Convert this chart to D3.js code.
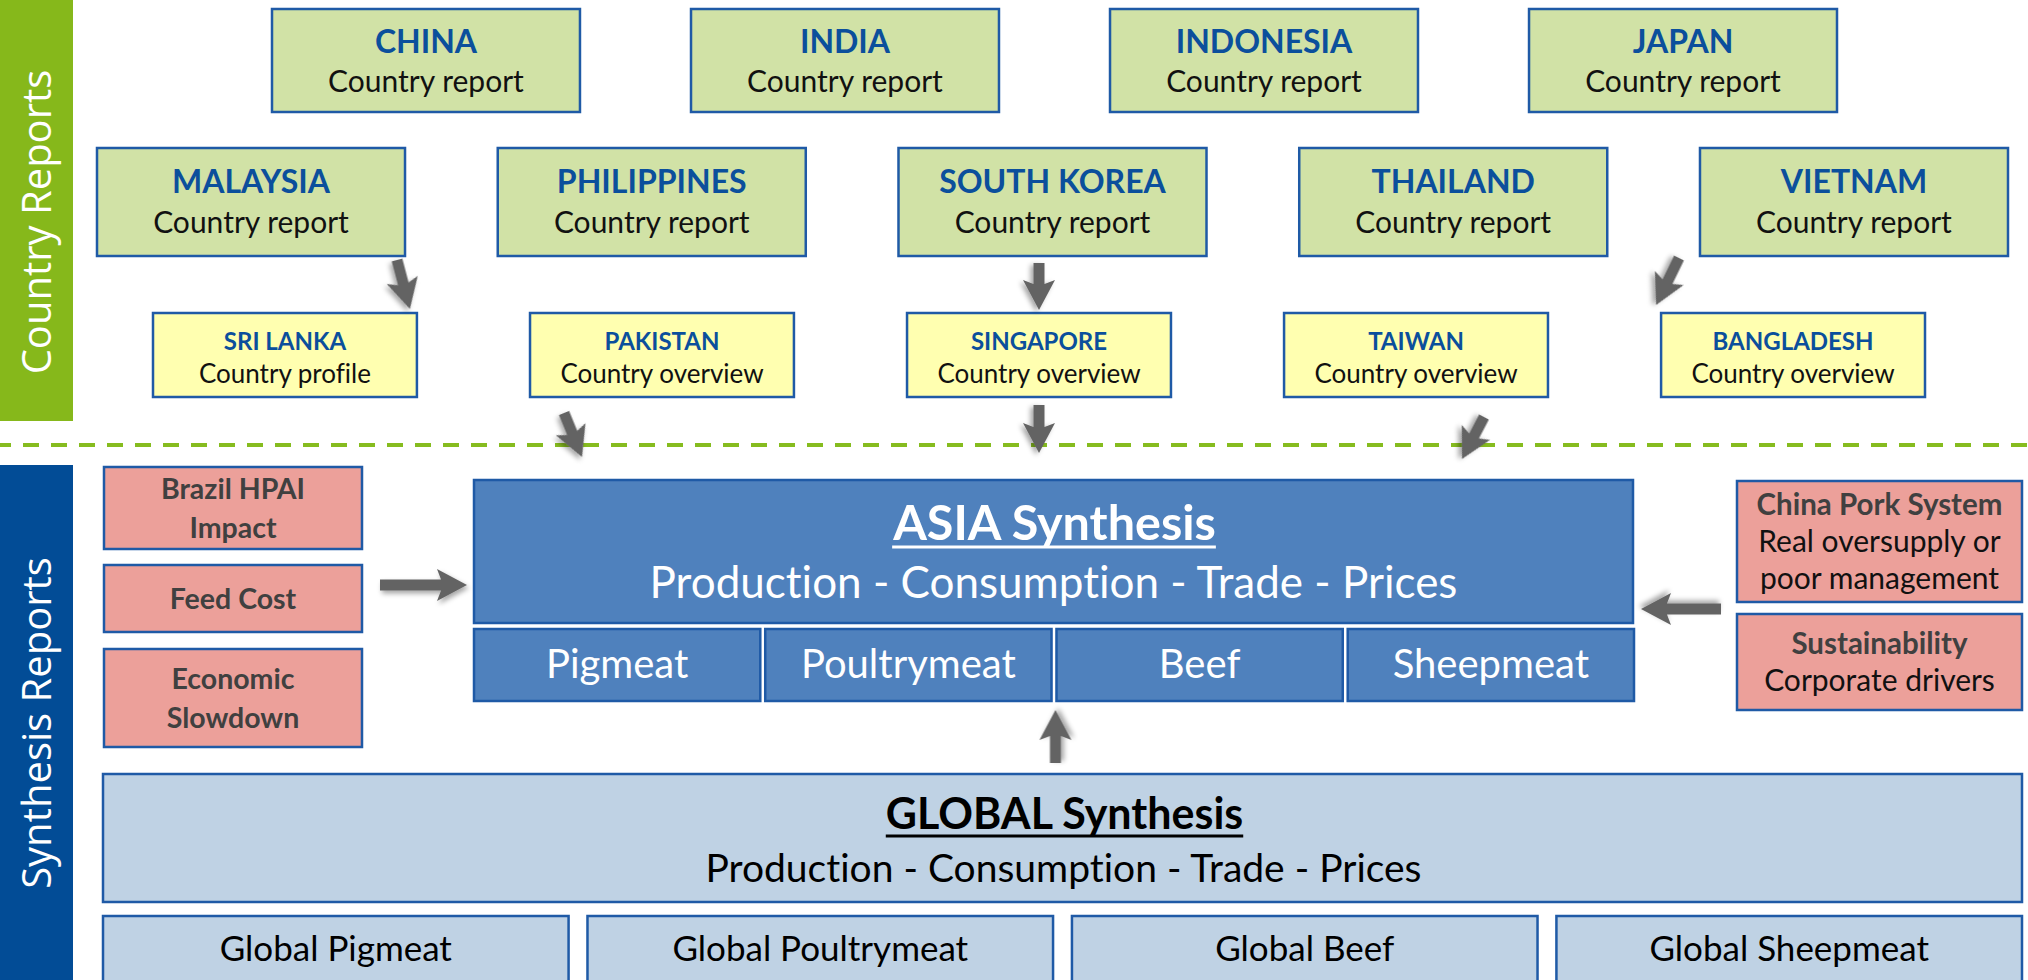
<!DOCTYPE html>
<html>
<head>
<meta charset="utf-8">
<script src="https://cdn.jsdelivr.net/npm/d3@7"></script>
<style>
  body { margin: 0; background: #fff; }
  text { font-family: Lato, 'Open Sans', sans-serif; }
</style>
</head>
<body>
<script>
/* global d3 */

// report names and labels
const topCountries = ['CHINA', 'INDIA', 'INDONESIA', 'JAPAN'];
const midCountries = ['MALAYSIA', 'PHILIPPINES', 'SOUTH KOREA', 'THAILAND', 'VIETNAM'];
const reportLabel = 'Country report';
const overviewCountries = ['SRI LANKA', 'PAKISTAN', 'SINGAPORE', 'TAIWAN', 'BANGLADESH'];
const overviewLabels = ['Country profile', 'Country overview', 'Country overview', 'Country overview', 'Country overview'];
const leftDrivers = [['Brazil HPAI', 'Impact'], ['Feed Cost'], ['Economic', 'Slowdown']];
const rightTitles = ['China Pork System', 'Sustainability'];
const rightNotes = [['Real oversupply or', 'poor management'], ['Corporate drivers']];
const asiaTitle = 'ASIA Synthesis';
const globalTitle = 'GLOBAL Synthesis';
const chainLabel = 'Production - Consumption - Trade - Prices';
const meats = ['Pigmeat', 'Poultrymeat', 'Beef', 'Sheepmeat'];
const globalMeats = ['Global Pigmeat', 'Global Poultrymeat', 'Global Beef', 'Global Sheepmeat'];
const sideLabels = ['Country Reports', 'Synthesis Reports'];

const W = 2028;
const H = 980;

const green = '#d1e2a6';
const yellow = '#ffffb0';
const salmon = '#eca09a';
const asiaBlue = '#4f81bd';
const paleBlue = '#bfd2e4';
const edge = '#1f5aa6';
const titleBlue = '#0b4f9c';

const svg = d3.select('body')
  .append('svg')
  .attr('width', W)
  .attr('height', H);

const defs = svg.append('defs');
defs.append('filter')
  .attr('id', 'shadow')
  .attr('x', '-30%').attr('y', '-30%')
  .attr('width', '160%').attr('height', '160%')
  .append('feDropShadow')
  .attr('dx', 2).attr('dy', 3)
  .attr('stdDeviation', 2.5)
  .attr('flood-color', '#000')
  .attr('flood-opacity', 0.35);

// horizontal scales for each row of boxes
const xTop = d3.scaleBand().domain(topCountries).range([272, 1837]).paddingInner(0.265);
const xMid = d3.scaleBand().domain(midCountries).range([97, 2008]).paddingInner(0.2314);
const xOver = d3.scaleBand().domain(overviewCountries).range([153, 1925]).paddingInner(0.3);
const xMeat = d3.scaleBand().domain(meats).range([474, 1634]).paddingInner(0.017);
const xGlobal = d3.scaleBand().domain(globalMeats).range([103, 2022]).paddingInner(0.039);

// vertical bands
const rowTop = [9, 112];
const rowMid = [148, 256];
const rowOver = [313, 397];
const asiaBox = { x0: 474, x1: 1633, y0: 480, y1: 623 };
const meatRow = [629, 701];
const globalBox = { x0: 103, x1: 2022, y0: 774, y1: 902 };
const globalRow = [916, 990];
const leftX = [104, 362];
const leftRows = [[467, 549], [565, 632], [649, 747]];
const rightX = [1737, 2022];
const rightRows = [[481, 602], [614, 710]];

function box(g, x0, y0, x1, y1, fill) {
  g.append('rect')
    .attr('x', x0)
    .attr('y', y0)
    .attr('width', x1 - x0)
    .attr('height', y1 - y0)
    .attr('fill', fill)
    .attr('stroke', edge)
    .attr('stroke-width', 2.5);
}

function label(g, x, y, txt, size, weight, color) {
  return g.append('text')
    .attr('x', x)
    .attr('y', y)
    .attr('text-anchor', 'middle')
    .style('font-size', `${size}px`)
    .style('font-weight', weight)
    .style('font-variant-ligatures', 'none')
    .attr('fill', color)
    .text(txt);
}

function underline(g, t, color, dy) {
  const b = t.node().getBBox();
  const y = +t.attr('y') + dy;
  g.append('line')
    .attr('x1', b.x)
    .attr('x2', b.x + b.width)
    .attr('y1', y)
    .attr('y2', y)
    .attr('stroke', color)
    .attr('stroke-width', 3);
}

// side bands
svg.append('rect').attr('x', 0).attr('y', 0).attr('width', 73).attr('height', 421).attr('fill', '#86b81b');
svg.append('rect').attr('x', 0).attr('y', 465).attr('width', 73).attr('height', H - 465).attr('fill', '#024c96');
[[sideLabels[0], 222], [sideLabels[1], 723]].forEach(([txt, cy]) => {
  svg.append('text')
    .attr('transform', `translate(51, ${cy}) rotate(-90)`)
    .attr('text-anchor', 'middle')
    .style('font-family', "'Open Sans', sans-serif")
    .style('font-size', '40px')
    .style('font-weight', 400)
    .attr('fill', '#fff')
    .text(txt);
});

// dashed divider
svg.append('line')
  .attr('x1', 0).attr('x2', W)
  .attr('y1', 445).attr('y2', 445)
  .attr('stroke', '#86bc1f')
  .attr('stroke-width', 4)
  .attr('stroke-dasharray', '16 12')
  .attr('stroke-dashoffset', 5);

// country report rows
const gTop = svg.append('g');
topCountries.forEach((c) => {
  const x = xTop(c);
  const cx = x + xTop.bandwidth() / 2;
  box(gTop, x, rowTop[0], x + xTop.bandwidth(), rowTop[1], green);
  label(gTop, cx, rowTop[0] + 44, c, 32, 700, titleBlue);
  label(gTop, cx, rowTop[0] + 83, reportLabel, 30, 400, '#111');
});

midCountries.forEach((c) => {
  const x = xMid(c);
  const cx = x + xMid.bandwidth() / 2;
  box(gTop, x, rowMid[0], x + xMid.bandwidth(), rowMid[1], green);
  label(gTop, cx, rowMid[0] + 45, c, 32, 700, titleBlue);
  label(gTop, cx, rowMid[0] + 85, reportLabel, 30, 400, '#111');
});

overviewCountries.forEach((c, i) => {
  const x = xOver(c);
  const cx = x + xOver.bandwidth() / 2;
  box(gTop, x, rowOver[0], x + xOver.bandwidth(), rowOver[1], yellow);
  label(gTop, cx, rowOver[0] + 37, c, 24, 700, titleBlue);
  label(gTop, cx, rowOver[0] + 70, overviewLabels[i], 26, 400, '#111');
});

// driver boxes
const gDrv = svg.append('g');
leftDrivers.forEach((lines, i) => {
  const [y0, y1] = leftRows[i];
  const cy = (y0 + y1) / 2;
  box(gDrv, leftX[0], y0, leftX[1], y1, salmon);
  lines.forEach((ln, j) => {
    label(gDrv, (leftX[0] + leftX[1]) / 2, cy + 10 + (j - (lines.length - 1) / 2) * 39, ln, 28.5, 700, '#404040');
  });
});

rightTitles.forEach((t, i) => {
  const [y0, y1] = rightRows[i];
  const cy = (y0 + y1) / 2;
  const lines = [t].concat(rightNotes[i]);
  box(gDrv, rightX[0], y0, rightX[1], y1, salmon);
  lines.forEach((ln, j) => {
    label(gDrv, (rightX[0] + rightX[1]) / 2, cy + 10 + (j - (lines.length - 1) / 2) * 37,
      ln, j === 0 ? 29.5 : 30, j === 0 ? 700 : 400, j === 0 ? '#404040' : '#111');
  });
});

// asia synthesis
const gAsia = svg.append('g');
box(gAsia, asiaBox.x0, asiaBox.y0, asiaBox.x1, asiaBox.y1, asiaBlue);
const asiaCx = (asiaBox.x0 + asiaBox.x1) / 2;
const at = label(gAsia, asiaCx + 1, asiaBox.y0 + 60, asiaTitle, 48.5, 700, '#fff');
underline(gAsia, at, '#fff', 7);
label(gAsia, asiaCx, asiaBox.y0 + 118, chainLabel, 44, 400, '#fff');
meats.forEach((m) => {
  const x = xMeat(m);
  box(gAsia, x, meatRow[0], x + xMeat.bandwidth(), meatRow[1], asiaBlue);
  label(gAsia, x + xMeat.bandwidth() / 2, meatRow[0] + 49, m, 40, 400, '#fff');
});

// global synthesis
const gGlob = svg.append('g');
box(gGlob, globalBox.x0, globalBox.y0, globalBox.x1, globalBox.y1, paleBlue);
const globCx = (globalBox.x0 + globalBox.x1) / 2;
const gt = label(gGlob, globCx + 2, globalBox.y0 + 55, globalTitle, 43, 700, '#000');
underline(gGlob, gt, '#000', 7);
label(gGlob, globCx + 1, globalBox.y0 + 108, chainLabel, 39, 400, '#000');
globalMeats.forEach((m) => {
  const x = xGlobal(m);
  box(gGlob, x, globalRow[0], x + xGlobal.bandwidth(), globalRow[1], paleBlue);
  label(gGlob, x + xGlobal.bandwidth() / 2, globalRow[0] + 45, m, 35, 400, '#000');
});

// block arrows
const gArr = svg.append('g');
function arrow(x1, y1, x2, y2) {
  const len = Math.hypot(x2 - x1, y2 - y1);
  const ang = (Math.atan2(y2 - y1, x2 - x1) * 180) / Math.PI;
  const hl = 30;
  const hw = 16;
  const sw = 5.5;
  const p = d3.path();
  p.moveTo(0, -sw);
  p.lineTo(len - hl + 4, -sw);
  p.lineTo(len - hl, -hw);
  p.lineTo(len, 0);
  p.lineTo(len - hl, hw);
  p.lineTo(len - hl + 4, sw);
  p.lineTo(0, sw);
  p.closePath();
  gArr.append('path')
    .attr('d', p.toString())
    .attr('transform', `translate(${x1},${y1}) rotate(${ang})`)
    .attr('fill', '#646464')
    .attr('filter', 'url(#shadow)');
}

const bwMid = xMid.bandwidth();
const bwOver = xOver.bandwidth();
const sgCx = xOver('SINGAPORE') + bwOver / 2;
const beefLeft = xMeat('Beef');

arrow(xMid('MALAYSIA') + bwMid - 8, rowMid[1] + 4, xOver('SRI LANKA') + bwOver - 7, rowOver[0] - 4);
arrow(sgCx, rowMid[1] + 7, sgCx, rowOver[0] - 3);
arrow(xMid('VIETNAM') - 21, rowMid[1] + 2, xOver('BANGLADESH') - 5, rowOver[0] - 8);
arrow(xOver('PAKISTAN') + 34, rowOver[1] + 16, xOver('PAKISTAN') + 52, asiaBox.y0 - 23);
arrow(sgCx, rowOver[1] + 8, sgCx, asiaBox.y0 - 27);
arrow(xOver('TAIWAN') + bwOver - 64, rowOver[1] + 20, xOver('TAIWAN') + bwOver - 86, asiaBox.y0 - 21);
arrow(leftX[1] + 18, leftRows[1][0] + 20, asiaBox.x0 - 7, leftRows[1][0] + 20);
arrow(rightX[0] - 16, rightRows[1][0] - 5, asiaBox.x1 + 8, rightRows[1][0] - 5);
arrow(beefLeft - 1, globalBox.y0 - 11, beefLeft - 1, meatRow[1] + 9);
</script>
</body>
</html>
